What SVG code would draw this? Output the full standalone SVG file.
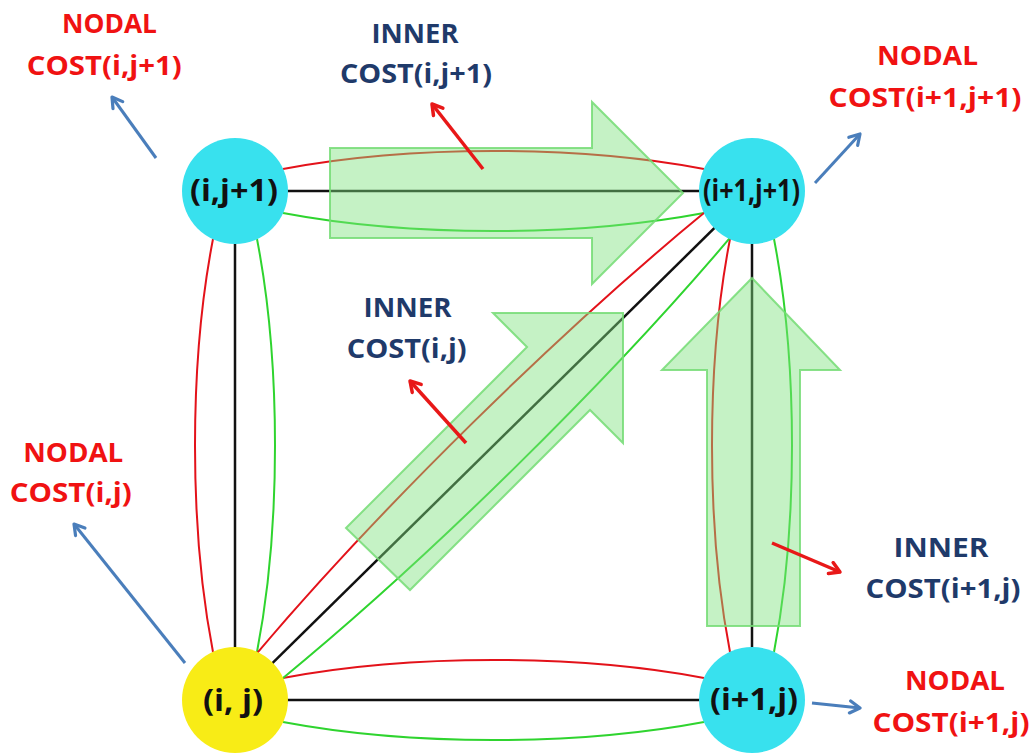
<svg xmlns="http://www.w3.org/2000/svg" width="1035" height="753" viewBox="0 0 1035 753">
<style>
.bk{stroke:#111;stroke-width:2.5;fill:none}
.rd{stroke:#e3121a;stroke-width:2;fill:none}
.gr{stroke:#2fd42f;stroke-width:2;fill:none}
.big{fill:#7fe27f;fill-opacity:0.45;stroke:#74dc74;stroke-opacity:0.85;stroke-width:2}
.pb{stroke:#4a7ebb;stroke-width:3;fill:none;marker-end:url(#ab)}
.pr{stroke:#e81818;stroke-width:3.5;fill:none;marker-end:url(#ar)}
.lab{font-family:"Open Sans","Liberation Sans",sans-serif;font-weight:bold;font-size:26px;text-anchor:middle}
.nod{fill:#f01212}
.inn{fill:#1f3a6a}
.nl{font-family:"Open Sans","Liberation Sans",sans-serif;font-weight:bold;font-size:30px;text-anchor:middle;fill:#111}
.cy{fill:#38e1ee}
.ye{fill:#f8ec16}
</style>
<defs>
<marker id="ab" viewBox="0 0 16 16" refX="13" refY="8" markerWidth="16" markerHeight="16" markerUnits="userSpaceOnUse" orient="auto"><path d="M3,2 L13,8 L3,14" fill="none" stroke="#4a7ebb" stroke-width="3.2" stroke-linecap="round" stroke-linejoin="round"/></marker>
<marker id="ar" viewBox="0 0 16 16" refX="13" refY="8" markerWidth="16" markerHeight="16" markerUnits="userSpaceOnUse" orient="auto"><path d="M3,2 L13,8 L3,14" fill="none" stroke="#e81818" stroke-width="3.5" stroke-linecap="round" stroke-linejoin="round"/></marker>
</defs>
<rect width="1035" height="753" fill="#fff"/>
<g id="connectors">
<line class="bk" x1="235" y1="191" x2="752" y2="191"/>
<line class="bk" x1="235" y1="191" x2="235" y2="700"/>
<line class="bk" x1="752" y1="191" x2="752" y2="700"/>
<line class="bk" x1="235" y1="700" x2="752" y2="700"/>
<line class="bk" x1="235" y1="700" x2="752" y2="191"/>
<path class="rd" d="M283,169 C410,145 577,145 704,169"/>
<path class="gr" d="M283,213 C410,237 577,237 704,213"/>
<path class="rd" d="M213,239 C189,363 189,528 213,652"/>
<path class="gr" d="M257,239 C281,363 281,528 257,652"/>
<path class="rd" d="M730,239 C706,363 706,528 730,652"/>
<path class="gr" d="M774,239 C798,363 798,528 774,652"/>
<path class="rd" d="M283,678 C410,654 577,654 704,678"/>
<path class="gr" d="M283,722 C410,746 577,746 704,722"/>
<path class="rd" d="M257.3,652.8 C379.3,508.8 558.5,332.4 704.5,212.6"/>
<path class="gr" d="M282.5,678.4 C428.5,558.6 607.7,382.2 729.7,238.2"/>
</g>
<g id="flow-arrows">
<polygon class="big" points="330,148 592,148 592,102 683,193 592,284 592,238 330,238"/>
<polygon class="big" points="346,528 527,347 493,313 623,313 623,443 590,410 410,590"/>
<polygon class="big" points="752,278 840,370 800,370 800,626 707,626 707,370 662,370"/>
</g>
<g id="pointers">
<line class="pb" x1="156" y1="158" x2="112" y2="97"/>
<line class="pb" x1="815" y1="183" x2="860" y2="134"/>
<line class="pb" x1="185" y1="663" x2="74" y2="524"/>
<line class="pb" x1="812" y1="703" x2="860" y2="708"/>
<line class="pr" x1="483" y1="169" x2="432" y2="104"/>
<line class="pr" x1="466" y1="443" x2="410" y2="381"/>
<line class="pr" x1="772" y1="543" x2="840" y2="572"/>
</g>
<g id="node-i-j1"><circle class="cy" cx="235" cy="191" r="53"/><text class="nl" x="234" y="201" textLength="88" lengthAdjust="spacingAndGlyphs">(i,j+1)</text></g>
<g id="node-i1-j1"><circle class="cy" cx="752" cy="191" r="53"/><text class="nl" x="751.5" y="201" textLength="97" lengthAdjust="spacingAndGlyphs">(i+1,j+1)</text></g>
<g id="node-i-j"><circle class="ye" cx="235" cy="700" r="53"/><text class="nl" x="233" y="711" textLength="60" lengthAdjust="spacingAndGlyphs">(i, j)</text></g>
<g id="node-i1-j"><circle class="cy" cx="752" cy="700" r="53"/><text class="nl" x="754" y="710" textLength="88" lengthAdjust="spacingAndGlyphs">(i+1,j)</text></g>
<g id="labels">
<text class="lab nod" x="109.5" y="33" textLength="95" lengthAdjust="spacingAndGlyphs">NODAL</text>
<text class="lab nod" x="104.3" y="75" textLength="155" lengthAdjust="spacingAndGlyphs">COST(i,j+1)</text>
<text class="lab inn" x="415" y="43" textLength="87" lengthAdjust="spacingAndGlyphs">INNER</text>
<text class="lab inn" x="416" y="83" textLength="152" lengthAdjust="spacingAndGlyphs">COST(i,j+1)</text>
<text class="lab nod" x="927.5" y="65" textLength="101" lengthAdjust="spacingAndGlyphs">NODAL</text>
<text class="lab nod" x="925" y="107" textLength="193" lengthAdjust="spacingAndGlyphs">COST(i+1,j+1)</text>
<text class="lab nod" x="73.3" y="462" textLength="100" lengthAdjust="spacingAndGlyphs">NODAL</text>
<text class="lab nod" x="70.8" y="502" textLength="122" lengthAdjust="spacingAndGlyphs">COST(i,j)</text>
<text class="lab inn" x="407.5" y="317" textLength="88" lengthAdjust="spacingAndGlyphs">INNER</text>
<text class="lab inn" x="406.7" y="358" textLength="120" lengthAdjust="spacingAndGlyphs">COST(i,j)</text>
<text class="lab inn" x="941" y="557" textLength="95" lengthAdjust="spacingAndGlyphs">INNER</text>
<text class="lab inn" x="943" y="598" textLength="155" lengthAdjust="spacingAndGlyphs">COST(i+1,j)</text>
<text class="lab nod" x="955" y="690" textLength="100" lengthAdjust="spacingAndGlyphs">NODAL</text>
<text class="lab nod" x="951" y="732" textLength="157" lengthAdjust="spacingAndGlyphs">COST(i+1,j)</text>
</g>
</svg>
